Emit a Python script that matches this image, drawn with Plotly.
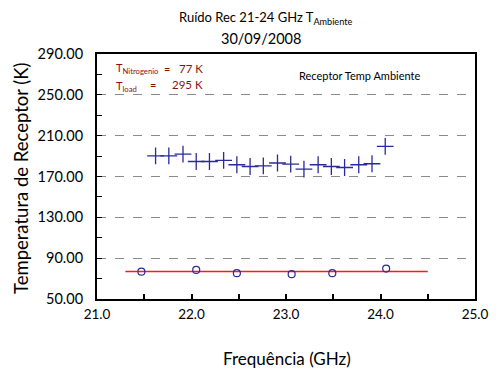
import plotly.graph_objects as go

# ---- data ----
freq_rx = [21.62, 21.76, 21.91, 22.05, 22.19, 22.34, 22.48, 22.62, 22.76,
           22.91, 23.05, 23.19, 23.34, 23.48, 23.62, 23.77, 23.91, 24.05]
temp_rx = [190.3, 190.3, 192.0, 184.7, 184.7, 185.7, 181.5, 179.8, 180.5,
           183.2, 182.2, 177.3, 181.5, 179.8, 178.8, 181.5, 182.5, 199.5]

freq_n2 = [21.47, 22.05, 22.48, 23.06, 23.49, 24.06]
temp_n2 = [76.8, 78.5, 75.3, 74.3, 75.3, 79.8]

ref_freq = [21.3, 24.5]
ref_temp = [77, 77]

y_ticks = [50, 90, 130, 170, 210, 250, 290]
x_ticks = [21, 22, 23, 24, 25]

FONT = "Lato, Open Sans, DejaVu Sans, sans-serif"
NAVY = "#2a2a9a"
DARKRED = "#8b1010"

fig = go.Figure()
fig.add_trace(go.Scatter(x=ref_freq, y=ref_temp, mode="lines",
                         line=dict(color="#ff1a1a", width=1.5),
                         showlegend=False, hoverinfo="skip"))
fig.add_trace(go.Scatter(x=freq_rx, y=temp_rx, mode="markers",
                         marker=dict(symbol="cross-thin-open", size=12, color=NAVY,
                                     line=dict(color=NAVY, width=1.3)),
                         showlegend=False))
fig.add_trace(go.Scatter(x=freq_n2, y=temp_n2, mode="markers",
                         marker=dict(symbol="circle-open", size=7,
                                     color=NAVY, line=dict(color=NAVY, width=1.2)),
                         showlegend=False))

# page body has an 8px margin; compensate so the plot sits where the reference has it
OFF = 8
W, H = 500 - OFF, 381 - OFF
L, R, T, B = 97 - OFF, 25, 54 - OFF, 82
pw = W - L - R
ph = H - T - B


def px(xp):
    return (xp - OFF - L) / pw


def py(yp):
    return (H - B - (yp - OFF)) / ph


def A(text, x, y, size, color="black", xanchor="center", **kw):
    return dict(text=text, x=px(x), y=py(y), xanchor=xanchor, yanchor="middle",
                xref="paper", yref="paper", showarrow=False,
                font=dict(size=size, color=color, family=FONT), **kw)


ann = [
    A("Ruído Rec 21-24 GHz T<sub>Ambiente</sub>", 265, 18, 13),
    A("30/09/2008", 261, 39, 14.5),
    A("T<sub>Nitrogenio</sub>", 114, 69, 11, DARKRED, "left"),
    A("=", 167, 68, 11, DARKRED),
    A("77 K", 177, 68, 11.5, DARKRED, "left"),
    A("T<sub>load</sub>", 114, 86, 11, DARKRED, "left"),
    A("=", 153, 85, 11, DARKRED),
    A("295 K", 170, 85, 11.5, DARKRED, "left"),
    A("Receptor Temp Ambiente", 297, 75, 11, "black", "left"),
    A("Frequência (GHz)", 287, 358, 17),
    A("Temperatura de Receptor (K)", 21, 178, 18.5, textangle=-90),
]

fig.update_layout(
    width=W, height=H,
    margin=dict(l=L, r=R, t=T, b=B, autoexpand=False),
    paper_bgcolor="white", plot_bgcolor="white",
    font=dict(family=FONT, color="black"),
    annotations=ann,
    xaxis=dict(range=[21, 25], tickvals=x_ticks, automargin=False,
               ticktext=[f"{v:.1f}" for v in x_ticks],
               showgrid=False, zeroline=False,
               showline=True, linecolor="black", linewidth=2, mirror=True,
               ticks="inside", ticklen=5, tickcolor="black", tickwidth=2,
               minor=dict(dtick=0.5, ticks="inside", ticklen=5,
                          tickcolor="black", tickwidth=2, showgrid=False),
               tickfont=dict(size=13.5), ticklabelstandoff=2),
    yaxis=dict(range=[50, 290], tickvals=y_ticks, automargin=False,
               ticktext=[f"{v:.2f}" for v in y_ticks],
               showgrid=True, gridcolor="#8a8a8a", griddash="dash", gridwidth=1,
               zeroline=False,
               showline=True, linecolor="black", linewidth=2, mirror=True,
               ticks="inside", ticklen=5, tickcolor="black", tickwidth=1,
               minor=dict(dtick=20, tick0=50, ticks="inside", ticklen=5,
                          tickcolor="black", tickwidth=1, showgrid=False),
               tickfont=dict(size=14.5), ticklabelstandoff=9),
)

fig.write_html("out.html")
